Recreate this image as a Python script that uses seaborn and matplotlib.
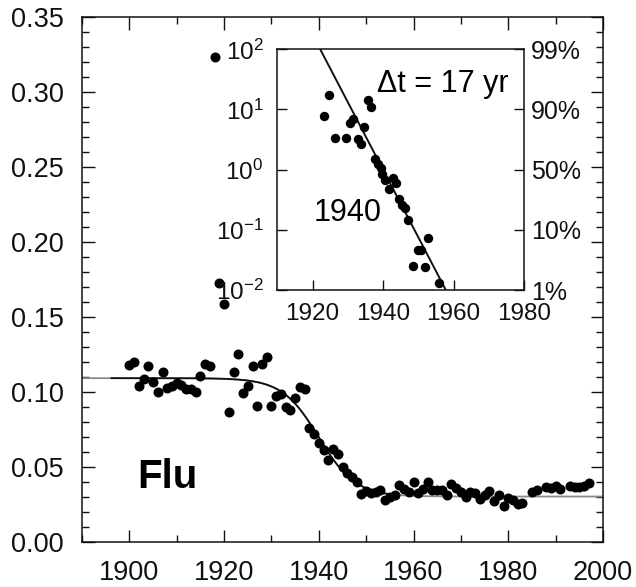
import numpy as np
import pandas as pd
import matplotlib
matplotlib.use("Agg")
import matplotlib.pyplot as plt
import seaborn as sns
from matplotlib.ticker import MultipleLocator, FixedLocator, NullLocator, FormatStrFormatter, FuncFormatter

# ---- main panel data (fraction vs year) ----
years = [1900, 1901, 1902, 1903, 1904, 1905, 1906, 1907, 1908, 1909,
         1910, 1911, 1912, 1913, 1914, 1915, 1916, 1917, 1918, 1919,
         1920, 1921, 1922, 1923, 1924, 1925, 1926, 1927, 1928, 1929,
         1930, 1931, 1932, 1933, 1934, 1935, 1936, 1937, 1938, 1939,
         1940, 1941, 1942, 1943, 1944, 1945, 1946, 1947, 1948, 1949,
         1950, 1951, 1952, 1953, 1954, 1955, 1956, 1957, 1958, 1959,
         1960, 1961, 1962, 1963, 1964, 1965, 1966, 1967, 1968, 1969,
         1970, 1971, 1972, 1973, 1974, 1975, 1976, 1977, 1978, 1979,
         1980, 1981, 1982, 1983, 1985, 1986, 1988, 1989, 1990, 1991,
         1993, 1994, 1995, 1996, 1997]
values = [0.1175, 0.1198, 0.1040, 0.1087, 0.1169, 0.1065, 0.0995, 0.1129, 0.1025, 0.1040,
          0.1058, 0.1047, 0.1018, 0.1018, 0.0995, 0.1107, 0.1185, 0.1173, 0.3235, 0.1725,
          0.1587, 0.0862, 0.1131, 0.1251, 0.0991, 0.1035, 0.1169, 0.0902, 0.1187, 0.1229,
          0.0902, 0.0969, 0.0985, 0.0898, 0.0875, 0.0958, 0.1031, 0.1017, 0.0758, 0.0720,
          0.0655, 0.0613, 0.0547, 0.0619, 0.0585, 0.0495, 0.0457, 0.0428, 0.0395, 0.0320,
          0.0334, 0.0324, 0.0330, 0.0345, 0.0278, 0.0300, 0.0312, 0.0377, 0.0351, 0.0330,
          0.0400, 0.0325, 0.0347, 0.0395, 0.0341, 0.0342, 0.0345, 0.0313, 0.0386, 0.0358,
          0.0329, 0.0298, 0.0329, 0.0325, 0.0285, 0.0307, 0.0335, 0.0269, 0.0313, 0.0240,
          0.0291, 0.0275, 0.0253, 0.0258, 0.0330, 0.0345, 0.0364, 0.0358, 0.0369, 0.0347,
          0.0369, 0.0362, 0.0365, 0.0368, 0.0390]

# ---- inset data: F/(1-F) vs year ----
inset_years = [1923.3, 1924.6, 1926.4, 1929.6, 1930.7, 1931.6, 1932.9, 1933.7, 1934.7, 1935.8,
               1936.7, 1937.7, 1938.5, 1939.3, 1939.8, 1940.5, 1941.7, 1942.8, 1943.8, 1944.5,
               1945.3, 1946.3, 1947.2, 1948.6, 1949.8, 1950.7, 1951.9, 1952.8, 1955.8]
inset_ratio = [7.8, 17.2, 3.4, 3.4, 5.9, 7.0, 3.2, 2.7, 5.2, 14.4,
               10.9, 1.49, 1.23, 1.05, 0.84, 0.67, 0.47, 0.72, 0.59, 0.33,
               0.26, 0.23, 0.146, 0.025, 0.046, 0.046, 0.0245, 0.072, 0.0129]

# ---- logistic fit parameters shown on the chart ----
T_MID = 1940      # midpoint year
DT = 17           # 10%-90% takeover time (yr)
HIGH = 0.109
LOW = 0.030

main_ticks = [0.00, 0.05, 0.10, 0.15, 0.20, 0.25, 0.30, 0.35]
main_xticks = [1900, 1920, 1940, 1960, 1980, 2000]
inset_xticks = [1920, 1940, 1960, 1980]
inset_yticks = [1e-2, 1e-1, 1e0, 1e1, 1e2]
pct_labels = ["1%", "10%", "50%", "90%", "99%"]

sns.set_theme(style="ticks")
plt.rcParams["font.family"] = ["Liberation Sans", "DejaVu Sans"]
plt.rcParams["mathtext.fontset"] = "custom"
plt.rcParams["mathtext.rm"] = "Liberation Sans"
plt.rcParams["mathtext.it"] = "Liberation Sans:italic"
plt.rcParams["mathtext.bf"] = "Liberation Sans:bold"

W, H = 636, 587
fig = plt.figure(figsize=(W / 100, H / 100), dpi=100)
fig.patch.set_facecolor("white")

# main axes
L, R, T, B = 82, 603, 17, 541.5
ax = fig.add_axes([L / W, (H - B) / H, (R - L) / W, (B - T) / H])
ax.set_facecolor("white")

df = pd.DataFrame({"year": years, "value": values})
t = np.linspace(1890, 2000, 500)
k = np.log(81) / DT
fit = LOW + (HIGH - LOW) / (1 + np.exp(k * (t - T_MID)))
fit_df = pd.DataFrame({"year": t, "value": fit})
sns.lineplot(data=fit_df, x="year", y="value", ax=ax, color="#8a8a8a", lw=1.3,
             estimator=None, sort=False)
dark = fit_df[(fit_df.year >= 1896) & (fit_df.year <= 1956)]
sns.lineplot(data=dark, x="year", y="value", ax=ax, color="#111111", lw=1.3,
             estimator=None, sort=False)
sns.scatterplot(data=df, x="year", y="value", ax=ax, color="black", s=52,
                linewidth=0, zorder=5)

ax.set_xlim(1890, 2000)
ax.set_ylim(0, 0.35)
ax.set_xlabel("")
ax.set_ylabel("")
ax.xaxis.set_major_locator(FixedLocator(main_xticks))
ax.xaxis.set_minor_locator(MultipleLocator(10))
ax.yaxis.set_major_locator(FixedLocator(main_ticks))
ax.yaxis.set_minor_locator(MultipleLocator(0.01))
ax.yaxis.set_major_formatter(FormatStrFormatter("%.2f"))
ax.tick_params(which="both", direction="in", top=True, right=True, colors="#111111",
               width=1.0)
ax.tick_params(which="major", length=9, labelsize=19.5)
ax.tick_params(which="minor", length=5)
ax.tick_params(axis="y", which="major", pad=13)
ax.tick_params(axis="x", which="major", pad=13)
for s in ax.spines.values():
    s.set_visible(True)
    s.set_color("#111111")
    s.set_linewidth(1.1)

fig.text(167 / W, 1 - 477 / H, "Flu", fontsize=29, fontweight="bold",
         ha="center", va="center", color="black")

# inset axes
iL, iR, iT, iB = 277.3, 524, 49.3, 290
axin = fig.add_axes([iL / W, (H - iB) / H, (iR - iL) / W, (iB - iT) / H])
axin.set_facecolor("white")
axin.set_yscale("log")
t2 = np.linspace(1910, 1980, 300)
ratio_fit = 10 ** (-(t2 - T_MID) * np.log10(81) / DT)
line_df = pd.DataFrame({"year": t2, "ratio": ratio_fit})
sns.lineplot(data=line_df, x="year", y="ratio", ax=axin, color="#111111", lw=1.4,
             estimator=None, sort=False)
idf = pd.DataFrame({"year": inset_years, "ratio": inset_ratio})
sns.scatterplot(data=idf, x="year", y="ratio", ax=axin, color="black", s=46,
                linewidth=0, zorder=5)
axin.set_xlim(1910, 1980)
axin.set_ylim(1e-2, 1e2)
axin.set_xlabel("")
axin.set_ylabel("")
axin.xaxis.set_major_locator(FixedLocator(inset_xticks))
axin.xaxis.set_minor_locator(NullLocator())
axin.yaxis.set_major_locator(FixedLocator(inset_yticks))
axin.yaxis.set_minor_locator(NullLocator())
axin.yaxis.set_major_formatter(FuncFormatter(lambda v, p: r"$10^{%d}$" % int(round(np.log10(v)))))
axin.tick_params(which="major", direction="in", length=7, width=1.0, labelsize=17.5,
                 colors="#111111")
axin.tick_params(axis="y", pad=10)
axin.tick_params(axis="x", pad=9)
for s in axin.spines.values():
    s.set_visible(True)
    s.set_color("#111111")
    s.set_linewidth(1.1)

axr = axin.twinx()
axr.set_yscale("log")
axr.set_ylim(1e-2, 1e2)
axr.yaxis.set_major_locator(FixedLocator(inset_yticks))
axr.yaxis.set_minor_locator(NullLocator())
axr.set_yticklabels(pct_labels)
axr.tick_params(which="major", direction="in", length=7, width=1.0, labelsize=18,
                pad=5, colors="#111111")
for s in axr.spines.values():
    s.set_visible(False)

axin.text(0.672, 0.856, "\u0394t = 17 yr", transform=axin.transAxes, fontsize=22,
          ha="center", va="center", color="black")
axin.text(0.285, 0.318, "1940", transform=axin.transAxes, fontsize=22,
          ha="center", va="center", color="black")

fig.savefig("out.png", dpi=100, facecolor="white")
